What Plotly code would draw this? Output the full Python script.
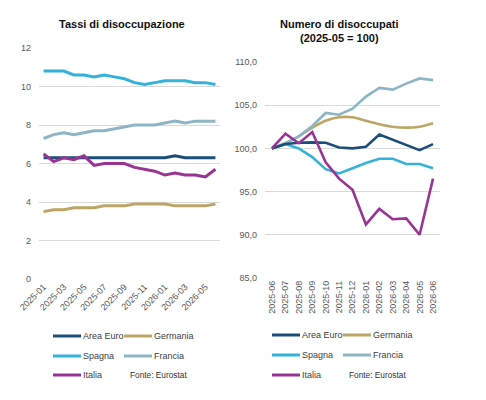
import plotly.graph_objects as go

W, H = 486, 400

# ---------------- data ----------------
months_left = ["2025-01", "2025-02", "2025-03", "2025-04", "2025-05", "2025-06",
               "2025-07", "2025-08", "2025-09", "2025-10", "2025-11", "2025-12",
               "2026-01", "2026-02", "2026-03", "2026-04", "2026-05", "2026-06"]
left_ticks = ["2025-01", "2025-03", "2025-05", "2025-07", "2025-09", "2025-11",
              "2026-01", "2026-03", "2026-05"]

rate_area_euro = [6.3, 6.3, 6.3, 6.3, 6.3, 6.3, 6.3, 6.3, 6.3, 6.3, 6.3, 6.3, 6.3, 6.4, 6.3, 6.3, 6.3, 6.3]
rate_germania = [3.5, 3.6, 3.6, 3.7, 3.7, 3.7, 3.8, 3.8, 3.8, 3.9, 3.9, 3.9, 3.9, 3.8, 3.8, 3.8, 3.8, 3.9]
rate_spagna = [10.8, 10.8, 10.8, 10.6, 10.6, 10.5, 10.6, 10.5, 10.4, 10.2, 10.1, 10.2, 10.3, 10.3, 10.3, 10.2, 10.2, 10.1]
rate_francia = [7.3, 7.5, 7.6, 7.5, 7.6, 7.7, 7.7, 7.8, 7.9, 8.0, 8.0, 8.0, 8.1, 8.2, 8.1, 8.2, 8.2, 8.2]
rate_italia = [6.5, 6.1, 6.3, 6.2, 6.4, 5.9, 6.0, 6.0, 6.0, 5.8, 5.7, 5.6, 5.4, 5.5, 5.4, 5.4, 5.3, 5.7]

months_right = ["2025-06", "2025-07", "2025-08", "2025-09", "2025-10", "2025-11", "2025-12",
                "2026-01", "2026-02", "2026-03", "2026-04", "2026-05", "2026-06"]

idx_area_euro = [100.0, 100.5, 100.65, 100.7, 100.65, 100.1, 100.0, 100.2, 101.6, 101.0, 100.4, 99.8, 100.5]
idx_germania = [100.0, 100.6, 101.4, 102.4, 103.2, 103.6, 103.6, 103.2, 102.8, 102.5, 102.4, 102.5, 102.9]
idx_spagna = [100.0, 100.5, 100.0, 99.0, 97.6, 97.1, 97.7, 98.3, 98.8, 98.8, 98.2, 98.2, 97.7]
idx_francia = [100.0, 100.6, 101.4, 102.6, 104.1, 103.9, 104.6, 106.0, 107.0, 106.8, 107.5, 108.1, 107.9]
idx_italia = [100.0, 101.7, 100.6, 101.9, 98.4, 96.5, 95.2, 91.2, 93.0, 91.8, 91.9, 90.0, 96.5]

names = ["Area Euro", "Germania", "Spagna", "Francia", "Italia"]
colors = ["#1B4F7A", "#BCA566", "#35B2DA", "#8CB6C6", "#983493"]
left_series = [rate_area_euro, rate_germania, rate_spagna, rate_francia, rate_italia]
right_series = [idx_area_euro, idx_germania, idx_spagna, idx_francia, idx_italia]
source_text = "Fonte: Eurostat"
title_left = "Tassi di disoccupazione"
title_right = "Numero di disoccupati<br>(2025-05 = 100)"

# ---------------- figure ----------------
fig = go.Figure()

order = [1, 3, 2, 0, 4]
for i in order:
    fig.add_trace(go.Scatter(x=months_left, y=left_series[i], mode="lines", name=names[i],
                             line=dict(color=colors[i], width=3), xaxis="x", yaxis="y",
                             showlegend=False))
for i in order:
    shape = "spline" if names[i] == "Germania" else "linear"
    fig.add_trace(go.Scatter(x=months_right, y=right_series[i], mode="lines", name=names[i],
                             line=dict(color=colors[i], width=2.6, shape=shape, smoothing=1.0),
                             xaxis="x2", yaxis="y2", showlegend=False))

def px(x):
    return x / W

def py(y):
    return 1 - y / H

tick_font = dict(family="Liberation Sans, Arial, sans-serif", size=9, color="#595959")
grid = "#D9D9D9"

fig.update_layout(
    template="none",
    width=W, height=H,
    margin=dict(l=0, r=0, t=0, b=0),
    paper_bgcolor="white", plot_bgcolor="white",
    separators=",.",
    xaxis=dict(domain=[px(39), px(220)], type="category", range=[-0.45, 17.45],
               tickmode="array", tickvals=left_ticks, ticktext=left_ticks,
               tickangle=-45, tickfont=tick_font, showgrid=False, zeroline=False,
               showline=False, ticks="", automargin=False),
    yaxis=dict(domain=[py(279), py(48)], range=[0, 12], dtick=2, tickfont=tick_font,
               gridcolor=grid, gridwidth=1, zeroline=False, showline=False, ticks="",
               ticklabelstandoff=7, automargin=False),
    xaxis2=dict(domain=[px(265), px(440)], type="category", range=[-0.52, 12.52],
                tickangle=-90, tickfont=tick_font, showgrid=False, zeroline=False,
                showline=False, ticks="", anchor="y2", automargin=False),
    yaxis2=dict(domain=[py(278), py(62)], range=[85, 110], dtick=5, tickformat=".1f",
                tickfont=tick_font, gridcolor=grid, gridwidth=1, zeroline=False,
                showline=False, ticks="", anchor="x2", ticklabelstandoff=7, automargin=False),
)

title_font = dict(family="Liberation Sans, Arial, sans-serif", size=11, color="#111111")
annotations = [
    dict(text="<b>" + title_left + "</b>", x=px(122), y=py(24), xref="paper", yref="paper",
         showarrow=False, font=title_font, xanchor="center", yanchor="middle"),
    dict(text="<b>" + title_right.replace("<br>", "</b><br><b>") + "</b>", x=px(339), y=py(31),
         xref="paper", yref="paper", showarrow=False, font=title_font,
         xanchor="center", yanchor="middle"),
]

shapes = []
legend_font = dict(family="Liberation Sans, Arial, sans-serif", size=9, color="#404040")
src_font = dict(family="Liberation Sans, Carlito, sans-serif", size=8.3, color="#333333")

def add_legend(x_col1, x_col2, rows_y):
    slots = [(x_col1, rows_y[0]), (x_col2, rows_y[0]), (x_col1, rows_y[1]),
             (x_col2, rows_y[1]), (x_col1, rows_y[2])]
    for k, (x0, y0) in enumerate(slots):
        shapes.append(dict(type="line", xref="paper", yref="paper",
                           x0=px(x0), x1=px(x0 + 28), y0=py(y0), y1=py(y0),
                           line=dict(color=colors[k], width=3)))
        annotations.append(dict(text=names[k], x=px(x0 + 28), y=py(y0), xref="paper",
                                yref="paper", showarrow=False, font=legend_font,
                                xanchor="left", yanchor="middle"))
    annotations.append(dict(text=source_text, x=px(x_col2 + 4), y=py(rows_y[2]), xref="paper",
                            yref="paper", showarrow=False, font=src_font,
                            xanchor="left", yanchor="middle"))

add_legend(53, 124, [336, 356, 375])
add_legend(272, 343, [335, 355, 375])

fig.update_layout(annotations=annotations, shapes=shapes)

fig.write_html("out.html", config={"displayModeBar": False},
               post_script="document.body.style.margin='0';")
